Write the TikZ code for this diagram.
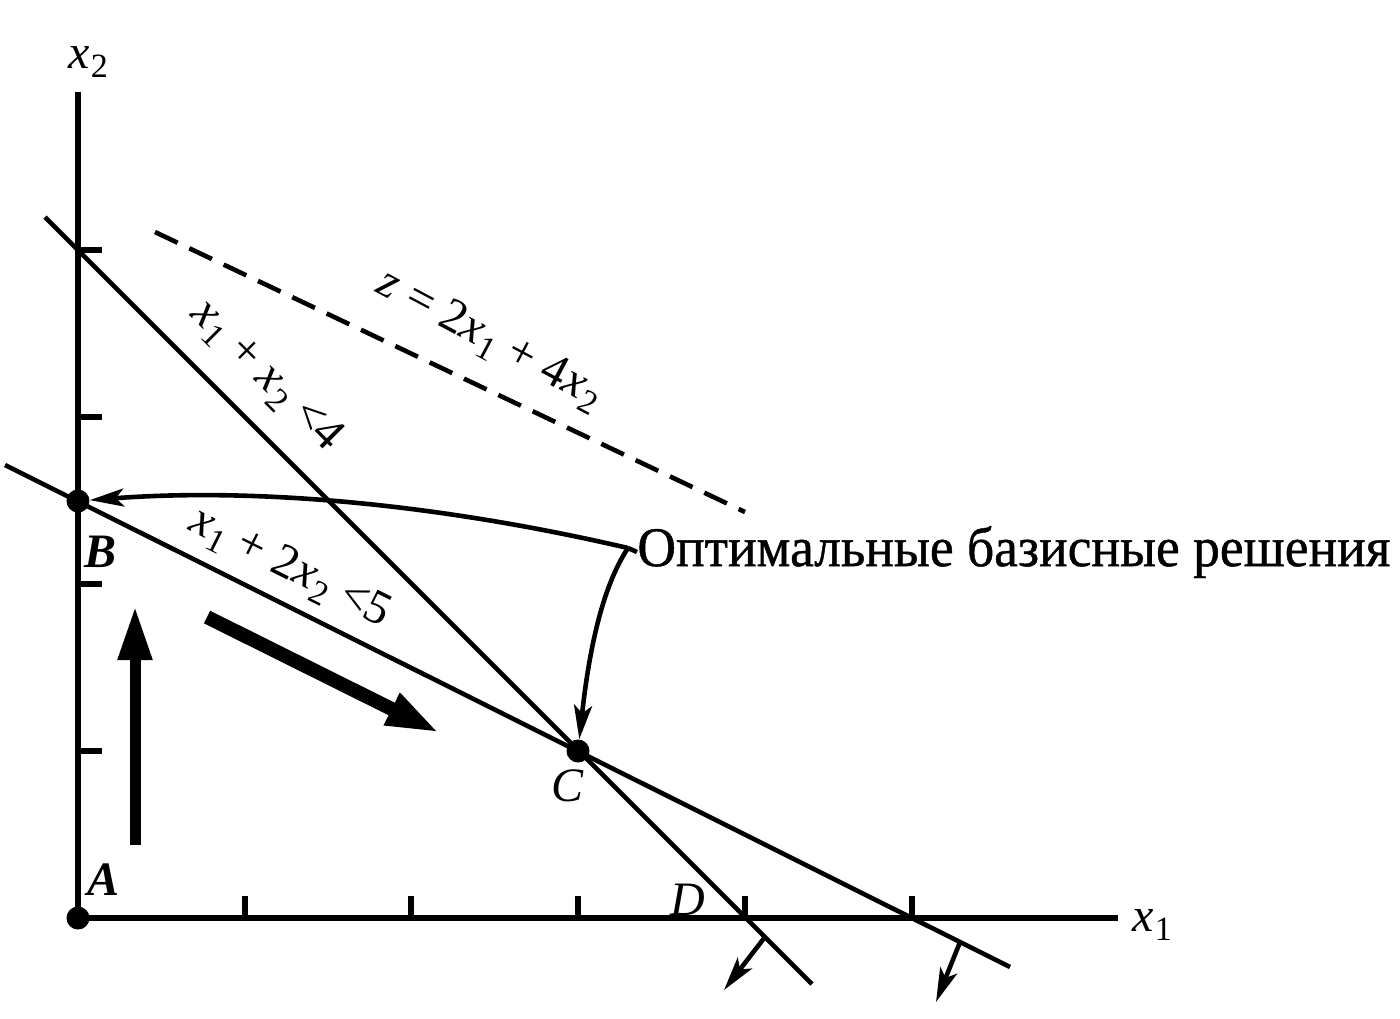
\documentclass[tikz,border=0pt]{standalone}
\usepackage{fontspec}
\setmainfont{Liberation Serif}
\usetikzlibrary{arrows.meta}
\newcommand\vx[1]{\textit{x}\kern0.03em\raisebox{-0.4ex}{\fontsize{17}{17}\selectfont #1}}
\begin{document}
\begin{tikzpicture}[x=0.5pt,y=-0.5pt,
  ax/.style={line width=2.6pt},
  cl/.style={line width=2.3pt},
  lbl/.style={font=\fontsize{24}{28}\selectfont, inner sep=0pt},
  ptlbl/.style={font=\fontsize{24}{28}\selectfont, inner sep=0pt},
  dot/.style={circle, fill, inner sep=0pt, minimum size=11.5pt},
  bigarrow/.style={line width=5.5pt, -{Triangle[length=27pt,width=16pt]}},
  thin arrow/.style={cl, -{Stealth[length=17pt,width=9pt,inset=4pt]}}]
\useasboundingbox (0,0) rectangle (1400,1018);
% axes
\coordinate (O) at (78,918);
\coordinate (Ytop) at (78,92);
\coordinate (Xend) at (1118,918);
\draw[ax] (Ytop) -- (O) -- (Xend);
\foreach \x in {245,411,578,745,912} \draw[ax] (\x,918) -- (\x,896);
\foreach \y in {751,584,417,250} \draw[ax] (78,\y) -- (102,\y);
\node[lbl] (x2lab) at (88,62) {\vx{2}};
\node[lbl] (x1lab) at (1152,925) {\vx{1}};
% constraint lines
\coordinate (L1a) at (45,217);
\coordinate (L1b) at (812,984);
\coordinate (L2a) at (5,465);
\coordinate (L2b) at (1010,967);
\draw[cl] (L1a) -- (L1b);
\draw[cl] (L2a) -- (L2b);
% objective dashed line
\coordinate (Za) at (155,232);
\coordinate (Zb) at (745,512);
\draw[cl, dash pattern=on 12.5pt off 6.5pt] (Za) -- (Zb);
% labels on lines
\node[lbl, rotate=-45] (c1lab) at (266,376) {\vx{1} + \vx{2} <4};
\node[lbl, rotate=-28] (zlab) at (490,340) {\textit{z} = 2\vx{1} + 4\vx{2}};
\node[lbl, rotate=-26.6] (c2lab) at (290,568) {\vx{1} + 2\vx{2} <5};
% points
\node[dot] (A) at (78,918) {};
\node[dot] (B) at (78,501) {};
\node[dot] (C) at (578,751) {};
\node[ptlbl] (Alab) at (104,880) {\textbf{\textit{A}}};
\node[ptlbl] (Blab) at (101,552) {\textbf{\textit{B}}};
\node[ptlbl] (Clab) at (568,786) {\textit{C}};
\node[ptlbl] (Dlab) at (688,900) {\textit{D}};
% big direction arrows
\coordinate (v1) at (135,845);
\coordinate (v2) at (135,606);
\draw[bigarrow] (v1) -- (v2);
\coordinate (d1) at (207,617);
\coordinate (d2) at (440,733);
\draw[bigarrow, line width=7pt] (d1) -- (d2);
% callout
\node[font=\fontsize{28}{32}\selectfont\addfontfeature{FakeBold=0.8}, anchor=west, inner sep=0pt] (opt) at (637,552) {\scalebox{0.955}[1]{Оптимальные базисные решения}};
\coordinate (J) at (628,548);
\draw[cl] (opt.west) -- (J);
\draw[thin arrow] (J) .. controls (430,502) and (250,488) .. (B);
\draw[thin arrow] (J) .. controls (600,590) and (588,660) .. (C);
% outward arrows
\coordinate (p1) at (765,937);
\coordinate (q1) at (724,990);
\draw[thin arrow] (p1) -- (q1);
\coordinate (p2) at (960,942);
\coordinate (q2) at (936,1002);
\draw[thin arrow] (p2) -- (q2);
\end{tikzpicture}
\end{document}
